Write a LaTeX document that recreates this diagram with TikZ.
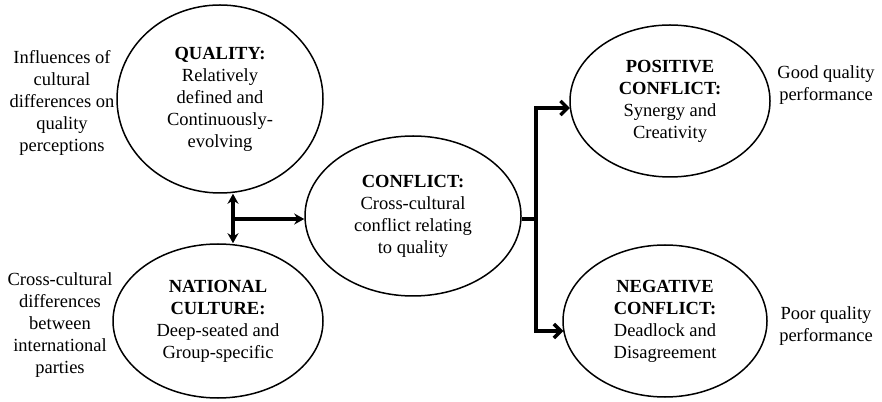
\documentclass[tikz,border=0pt]{standalone}
\usepackage{fontspec}
\setmainfont{Liberation Serif}
\usetikzlibrary{shapes.geometric,arrows.meta,calc}
\begin{document}
\begin{tikzpicture}[x=1pt,y=1pt,
  bubble/.style={ellipse,draw,line width=1.5pt,inner sep=0pt,align=center,
    font=\fontsize{18.5}{22}\selectfont},
  note/.style={align=center,font=\fontsize{18.5}{22}\selectfont},
  link/.style={line width=3.4pt},
  head/.tip={Stealth[length=10pt,width=11pt]},
  tip/.style={-head},
  barb/.style={-{Straight Barb[length=7pt,width=14pt,line width=3.4pt]}}]
\useasboundingbox (0,0) rectangle (882,401);

% the five concepts
\node[bubble,minimum width=206pt,minimum height=188pt] (quality) at (220,302)
  {\textbf{QUALITY:}\\Relatively\\defined and\\Continuously-\\evolving};
\node[bubble,minimum width=210pt,minimum height=154pt] (culture) at (218,80)
  {\textbf{NATIONAL}\\\textbf{CULTURE:}\\Deep-seated and\\Group-specific};
\node[bubble,minimum width=216pt,minimum height=160pt] (conflict) at (413,185)
  {\textbf{CONFLICT:}\\Cross-cultural\\conflict relating\\to quality};
\node[bubble,minimum width=200pt,minimum height=152pt] (positive) at (670,300)
  {\textbf{POSITIVE}\\\textbf{CONFLICT:}\\Synergy and\\Creativity};
\node[bubble,minimum width=204pt,minimum height=152pt] (negative) at (665,80)
  {\textbf{NEGATIVE}\\\textbf{CONFLICT:}\\Deadlock and\\Disagreement};

% side notes
\node[note] (qnote) at (62,298)
  {Influences of\\cultural\\differences on\\quality\\perceptions};
\node[note] (cnote) at (60,76)
  {Cross-cultural\\differences\\between\\international\\parties};
\node[note] (pnote) at (826,316) {Good quality\\performance};
\node[note] (nnote) at (826,75) {Poor quality\\performance};

% junctions
\coordinate (j1) at (233,182);
\coordinate (j2) at (536,182);

% quality <-> culture, feeding the conflict
\draw[link,head-head] (quality.south -| j1) -- (culture.north -| j1);
\draw[link,tip] (j1) -- (conflict.west |- j1);

% conflict splitting into positive and negative outcomes
\draw[link] (conflict.east |- j2) -- (j2);
\draw[link,barb] (j2) |- ($(positive.west)+(0.6,-7)$);
\draw[link,barb] (j2) |- ($(negative.west)+(1,-10)$);
\end{tikzpicture}
\end{document}
